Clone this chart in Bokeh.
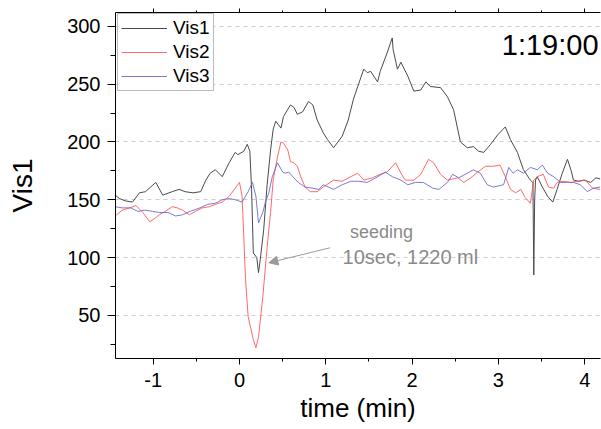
from bokeh.plotting import figure
from bokeh.models import (Range1d, SingleIntervalTicker, LinearAxis, Legend, LegendItem,
                          Label, Arrow, NormalHead, PrintfTickFormatter)
from bokeh.embed import file_html
from bokeh.resources import INLINE

# ---------------- data ----------------
vis1_t = [-1.44, -1.39, -1.32, -1.24, -1.16, -1.09, -1.03, -0.97, -0.89, -0.78, -0.70, -0.63,
          -0.54, -0.45, -0.39, -0.34, -0.28, -0.20, -0.12, -0.05, -0.02, 0.05, 0.09, 0.12,
          0.14, 0.16, 0.20, 0.22, 0.24, 0.28, 0.32, 0.36, 0.39, 0.42, 0.48, 0.51, 0.59, 0.63,
          0.67, 0.73, 0.80, 0.85, 0.90, 0.97, 1.02, 1.09, 1.19, 1.26, 1.32, 1.37, 1.44, 1.48,
          1.52, 1.60, 1.63, 1.71, 1.77, 1.78, 1.83, 1.87, 1.95, 2.02, 2.10, 2.16, 2.21, 2.33,
          2.41, 2.48, 2.56, 2.64, 2.71, 2.77, 2.83, 2.91, 2.99, 3.08, 3.14, 3.22, 3.29, 3.37,
          3.40, 3.41, 3.42, 3.43, 3.45, 3.51, 3.57, 3.63, 3.68, 3.74, 3.80, 3.84, 3.87, 3.93,
          3.99, 4.07, 4.13, 4.18]
vis1_v = [154, 151, 149, 148, 156, 157, 161, 165, 154, 157, 159, 157,
          156, 157, 167, 173, 176, 170, 182, 191, 189, 192, 198, 192,
          159, 104, 100, 87, 98, 124, 163, 193, 211, 218, 212, 222, 232, 230,
          224, 226, 235, 232, 219, 208, 202, 195, 205, 219, 237, 248, 263, 260,
          261, 252, 261, 277, 290, 280, 263, 269, 257, 244, 245, 252, 248, 247,
          239, 228, 200, 195, 196, 192, 191, 198, 206, 213, 202, 191, 176, 167,
          165, 85, 150, 167, 170, 161, 153, 148, 159, 173, 185, 176, 167, 166,
          167, 165, 169, 168]

vis2_t = [-1.44, -1.36, -1.27, -1.20, -1.12, -1.04, -0.98, -0.93, -0.86, -0.78, -0.72, -0.66,
          -0.58, -0.51, -0.43, -0.35, -0.28, -0.20, -0.12, -0.06, 0.00, 0.03, 0.07, 0.10,
          0.16, 0.19, 0.22, 0.27, 0.32, 0.36, 0.39, 0.44, 0.48, 0.51, 0.56, 0.59, 0.63, 0.67,
          0.71, 0.76, 0.82, 0.90, 0.97, 1.05, 1.09, 1.19, 1.29, 1.37, 1.44, 1.54, 1.63, 1.71,
          1.81, 1.87, 1.92, 2.02, 2.10, 2.19, 2.25, 2.33, 2.41, 2.53, 2.60, 2.68, 2.76, 2.85,
          2.94, 3.02, 3.08, 3.14, 3.20, 3.26, 3.31, 3.37, 3.41, 3.45, 3.52, 3.58, 3.64, 3.68,
          3.75, 3.84, 3.92, 4.01, 4.09, 4.18]
vis2_v = [136, 141, 143, 145, 139, 131, 134, 137, 140, 144, 143, 141,
          137, 140, 143, 144, 146, 148, 153, 159, 165, 153, 81, 49,
          29, 22, 31, 66, 109, 139, 167, 187, 200, 199, 193, 183, 182, 179,
          170, 161, 157, 157, 161, 165, 167, 166, 170, 173, 167, 169, 172, 174,
          182, 173, 167, 167, 172, 185, 182, 172, 167, 169, 165, 169, 174, 179,
          179, 180, 170, 159, 156, 159, 152, 147, 167, 170, 172, 161, 160, 165,
          166, 165, 166, 167, 160, 159]

vis3_t = [-1.44, -1.36, -1.26, -1.18, -1.09, -1.01, -0.93, -0.83, -0.74, -0.66, -0.57, -0.46,
          -0.37, -0.28, -0.20, -0.12, -0.05, 0.03, 0.10, 0.15, 0.19, 0.22, 0.27, 0.30,
          0.34, 0.38, 0.44, 0.50, 0.53, 0.57, 0.63, 0.68, 0.76, 0.85, 0.92, 0.97, 1.09, 1.19,
          1.29, 1.38, 1.48, 1.58, 1.69, 1.77, 1.87, 1.95, 2.04, 2.13, 2.24, 2.31, 2.41, 2.47,
          2.54, 2.64, 2.71, 2.79, 2.87, 2.94, 3.06, 3.12, 3.17, 3.22, 3.29, 3.37, 3.45, 3.51,
          3.57, 3.64, 3.72, 3.80, 3.87, 3.95, 4.03, 4.10, 4.18]
vis3_v = [144, 143, 143, 140, 141, 140, 139, 139, 136, 137, 140, 143,
          146, 147, 150, 151, 150, 148, 157, 165, 153, 130, 139, 148,
          156, 170, 182, 174, 173, 174, 169, 165, 161, 160, 159, 163, 159, 163,
          166, 166, 165, 169, 174, 170, 167, 163, 165, 165, 160, 159, 165, 172,
          169, 173, 176, 173, 163, 161, 163, 178, 173, 176, 173, 178, 176, 180,
          173, 170, 165, 165, 165, 163, 157, 160, 161]

series_names = ["Vis1", "Vis2", "Vis3"]
series_colors = ["#4a4a4a", "#ff5050", "#6464cc"]

x_ticks_interval = 1
y_ticks_interval = 50

FONT = "Liberation Sans"

p = figure(width=601, height=429, output_backend="svg", toolbar_location=None,
           x_range=Range1d(-1.437, 4.183), y_range=Range1d(12.7, 312),
           min_border_left=115, min_border_right=1, min_border_top=12, min_border_bottom=71)
p.outline_line_color = None
p.background_fill_color = "white"
p.border_fill_color = "white"

p.xaxis.ticker = SingleIntervalTicker(interval=x_ticks_interval, num_minor_ticks=2)
p.yaxis.ticker = SingleIntervalTicker(interval=y_ticks_interval, num_minor_ticks=2)
p.xaxis.formatter = PrintfTickFormatter(format="%d")
p.yaxis.formatter = PrintfTickFormatter(format="%d")

p.xgrid.visible = False
p.ygrid.grid_line_color = "#cfcfcf"
p.ygrid.grid_line_dash = "4 4"
p.ygrid.grid_line_width = 1

for ax in (p.xaxis[0], p.yaxis[0]):
    ax.axis_line_color = "black"
    ax.major_tick_line_color = "black"
    ax.minor_tick_line_color = "black"
    ax.major_tick_in = 0
    ax.minor_tick_in = 0
    ax.major_label_text_font = FONT
    ax.major_label_text_color = "black"
    ax.axis_label_text_font = FONT
    ax.axis_label_text_font_style = "normal"
    ax.axis_label_text_color = "black"

p.xaxis.major_tick_out = 6
p.xaxis.minor_tick_out = 3
p.xaxis.major_label_text_font_size = "20px"
p.xaxis.major_label_standoff = 8
p.xaxis.axis_label = "time (min)"
p.xaxis.axis_label_text_font_size = "26px"
p.xaxis.axis_label_standoff = 3

p.yaxis.major_tick_out = 8
p.yaxis.minor_tick_out = 5
p.yaxis.major_label_text_font_size = "20px"
p.yaxis.major_label_standoff = 7
p.yaxis.axis_label = "Vis1"
p.yaxis.axis_label_text_font_size = "28px"
p.yaxis.axis_label_standoff = 26

top = LinearAxis(ticker=SingleIntervalTicker(interval=x_ticks_interval, num_minor_ticks=2),
                 major_label_text_font_size="1px", major_label_text_color=None,
                 major_label_standoff=0,
                 major_tick_in=0, minor_tick_in=0, major_tick_out=4, minor_tick_out=2,
                 axis_line_color="black", major_tick_line_color="black",
                 minor_tick_line_color="black")
p.add_layout(top, "above")

r1 = p.line(vis1_t, vis1_v, line_color=series_colors[0], line_width=1)
r2 = p.line(vis2_t, vis2_v, line_color=series_colors[1], line_width=1, line_alpha=0.85)
r3 = p.line(vis3_t, vis3_v, line_color=series_colors[2], line_width=1, line_alpha=0.85)

legend = Legend(items=[LegendItem(label=series_names[0], renderers=[r1]),
                       LegendItem(label=series_names[1], renderers=[r2]),
                       LegendItem(label=series_names[2], renderers=[r3])],
                location=(2, 267))
legend.label_text_font = FONT
legend.label_text_font_size = "19px"
legend.label_text_color = "black"
legend.border_line_color = "#777777"
legend.border_line_width = 1
legend.background_fill_alpha = 1
legend.glyph_width = 46
legend.glyph_height = 20
legend.label_height = 20
legend.label_standoff = 6
legend.spacing = 2
legend.padding = 3
legend.margin = 0
p.add_layout(legend)

p.add_layout(Label(x=4.16, y=284, text="1:19:00", text_align="right", text_baseline="middle",
                   text_font=FONT, text_font_size="29px", text_color="black"))
p.add_layout(Label(x=1.645, y=122, text="seeding", text_align="center", text_baseline="middle",
                   text_font=FONT, text_font_size="18px", text_color="#8a8a8a"))
p.add_layout(Label(x=1.98, y=100.5, text="10sec, 1220 ml", text_align="center",
                   text_baseline="middle", text_font=FONT, text_font_size="20px",
                   text_color="#8a8a8a"))
p.add_layout(Arrow(end=NormalHead(size=9, fill_color="#9a9a9a", line_color="#9a9a9a"),
                   x_start=1.05, y_start=108.5, x_end=0.34, y_end=95.5,
                   line_color="#9a9a9a", line_width=1))

open("out.html", "w").write(file_html(p, INLINE))
